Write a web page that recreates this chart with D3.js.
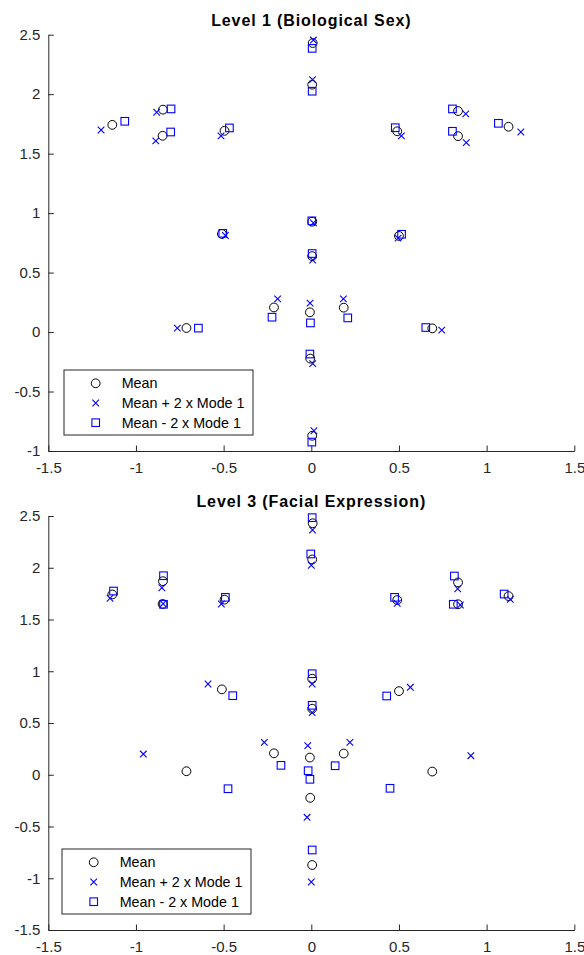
<!DOCTYPE html>
<html>
<head>
<meta charset="utf-8">
<script src="https://cdn.jsdelivr.net/npm/d3@7"></script>
<style>
  body { margin: 0; background: #ffffff; }
  svg { display: block; font-family: "Liberation Sans", Arial, sans-serif; }
</style>
</head>
<body>
<div id="chart"></div>
<script>
// mean shape (21 landmarks), same in both panels
var meanX = [-1.135, -0.846, -0.848, -0.495, 0.008, 0.005, 0.49, 0.837, 0.837, 1.125, -0.51, 0.005, 0.005, 0.5, -0.213, -0.008, 0.185, -0.712, 0.69, -0.006, 0.005];
var meanY = [1.742, 1.87, 1.65, 1.692, 2.43, 2.08, 1.688, 1.858, 1.647, 1.726, 0.825, 0.928, 0.638, 0.808, 0.207, 0.166, 0.205, 0.034, 0.031, -0.223, -0.872];

// Level 1 (Biological Sex)
var sexPlusX = [-1.199, -0.882, -0.887, -0.515, 0.012, 0.007, 0.514, 0.881, 0.884, 1.195, -0.49, 0.012, 0.008, 0.495, -0.192, -0.007, 0.183, -0.764, 0.744, 0.008, 0.015];
var sexPlusY = [1.699, 1.848, 1.607, 1.649, 2.455, 2.122, 1.649, 1.834, 1.593, 1.682, 0.812, 0.918, 0.605, 0.79, 0.279, 0.243, 0.279, 0.033, 0.016, -0.265, -0.83];
var sexMinusX = [-1.064, -0.8, -0.802, -0.467, 0.005, 0.005, 0.479, 0.805, 0.805, 1.067, -0.505, 0.003, 0.005, 0.515, -0.224, -0.005, 0.208, -0.644, 0.653, -0.008, 0.003];
var sexMinusY = [1.772, 1.876, 1.682, 1.716, 2.385, 2.025, 1.718, 1.876, 1.688, 1.755, 0.83, 0.935, 0.66, 0.822, 0.125, 0.077, 0.119, 0.033, 0.038, -0.185, -0.925];

// Level 3 (Facial Expression)
var exprPlusX = [-1.148, -0.852, -0.845, -0.513, 0.007, 0.0, 0.49, 0.835, 0.85, 1.135, -0.589, 0.005, 0.005, 0.565, -0.268, -0.02, 0.22, -0.958, 0.91, -0.024, 0.0];
var exprPlusY = [1.705, 1.807, 1.652, 1.65, 2.365, 2.024, 1.656, 1.797, 1.64, 1.695, 0.877, 0.877, 0.6, 0.845, 0.313, 0.281, 0.313, 0.2, 0.184, -0.411, -1.036];
var exprMinusX = [-1.128, -0.843, -0.843, -0.49, 0.005, -0.003, 0.475, 0.816, 0.81, 1.1, -0.448, 0.005, 0.005, 0.43, -0.173, -0.018, 0.136, -0.475, 0.449, -0.008, 0.005];
var exprMinusY = [1.775, 1.923, 1.647, 1.714, 2.484, 2.133, 1.714, 1.92, 1.647, 1.746, 0.764, 0.976, 0.671, 0.761, 0.091, 0.039, 0.087, -0.135, -0.131, -0.044, -0.727];

var xTicks = [-1.5, -1, -0.5, 0, 0.5, 1, 1.5];
var yTicksTop = [-1, -0.5, 0, 0.5, 1, 1.5, 2, 2.5];
var yTicksBottom = [-1.5, -1, -0.5, 0, 0.5, 1, 1.5, 2, 2.5];
var legendLabels = ["Mean", "Mean + 2 x Mode 1", "Mean - 2 x Mode 1"];

var svgWidth = 584, svgHeight = 955;
var axisColor = "#262626";
var blue = "#0000ff";

var svg = d3.select("#chart")
    .append("svg")
    .attr("width", svgWidth)
    .attr("height", svgHeight);

var xMarkPath = "M-3.3,-3.3L3.3,3.3M-3.3,3.3L3.3,-3.3";

function zipPts(xs, ys) {
    return xs.map(function(x, i) { return [x, ys[i]]; });
}

function drawPanel(opts) {
    var x = d3.scaleLinear().domain([-1.5, 1.5]).range([48.3, 574.3]);
    var y = d3.scaleLinear().domain(opts.yDomain).range([opts.bottom, opts.top]);

    var g = svg.append("g");

    // axes (ticks point inward, no box)
    var xAxis = d3.axisBottom(x).tickValues(xTicks)
        .tickFormat(function(d) { return String(d); })
        .tickSizeInner(-5.5).tickSizeOuter(0).tickPadding(11);
    var yAxis = d3.axisLeft(y).tickValues(opts.yTicks)
        .tickFormat(function(d) { return String(d); })
        .tickSizeInner(-5.5).tickSizeOuter(0).tickPadding(8);

    var gx = g.append("g")
        .attr("transform", "translate(0," + opts.bottom + ")")
        .call(xAxis);
    var gy = g.append("g")
        .attr("transform", "translate(48.3,0)")
        .call(yAxis);

    [gx, gy].forEach(function(a) {
        a.selectAll("path, line").attr("stroke", axisColor).attr("stroke-width", 1);
        a.selectAll("text").attr("fill", axisColor).style("font-size", "15px")
            .style("font-family", "'Liberation Sans', Arial, sans-serif");
    });

    // title
    g.append("text")
        .attr("x", 311.3)
        .attr("y", opts.top - 9)
        .attr("text-anchor", "middle")
        .style("font-size", "16px")
        .style("font-weight", "bold")
        .style("letter-spacing", "0.9px")
        .attr("fill", "#000")
        .text(opts.title);

    // mean circles
    g.selectAll(".mean")
        .data(zipPts(meanX, meanY))
        .enter()
        .append("circle")
        .attr("cx", function(d) { return x(d[0]); })
        .attr("cy", function(d) { return y(d[1]); })
        .attr("r", 4.4)
        .attr("fill", "none")
        .attr("stroke", "#000")
        .attr("stroke-width", 1);

    // mean + 2 x mode
    g.selectAll(".plus")
        .data(zipPts(opts.plusX, opts.plusY))
        .enter()
        .append("path")
        .attr("d", xMarkPath)
        .attr("transform", function(d) { return "translate(" + x(d[0]) + "," + y(d[1]) + ")"; })
        .attr("fill", "none")
        .attr("stroke", blue)
        .attr("stroke-width", 1.1);

    // mean - 2 x mode
    g.selectAll(".minus")
        .data(zipPts(opts.minusX, opts.minusY))
        .enter()
        .append("rect")
        .attr("x", function(d) { return x(d[0]) - 3.8; })
        .attr("y", function(d) { return y(d[1]) - 3.8; })
        .attr("width", 7.6)
        .attr("height", 7.6)
        .attr("fill", "none")
        .attr("stroke", blue)
        .attr("stroke-width", 1.1);

    // legend box
    var lg = g.append("g")
        .attr("transform", "translate(" + opts.legendX + "," + (opts.bottom - 81) + ")");
    lg.append("rect")
        .attr("width", 189)
        .attr("height", 65)
        .attr("fill", "#fff")
        .attr("stroke", axisColor)
        .attr("stroke-width", 1);

    var rowY = [13.3, 33, 52.7];
    lg.append("circle").attr("cx", 31.7).attr("cy", rowY[0]).attr("r", 4.4)
        .attr("fill", "none").attr("stroke", "#000").attr("stroke-width", 1);
    lg.append("path").attr("d", xMarkPath)
        .attr("transform", "translate(31.7," + rowY[1] + ")")
        .attr("fill", "none").attr("stroke", blue).attr("stroke-width", 1.1);
    lg.append("rect").attr("x", 31.7 - 3.8).attr("y", rowY[2] - 3.8)
        .attr("width", 7.6).attr("height", 7.6)
        .attr("fill", "none").attr("stroke", blue).attr("stroke-width", 1.1);

    lg.selectAll(".lbl")
        .data(legendLabels)
        .enter()
        .append("text")
        .attr("x", 57.7)
        .attr("y", function(d, i) { return rowY[i]; })
        .attr("dy", "0.35em")
        .style("font-size", "14.3px")
        .attr("fill", "#000")
        .text(function(d) { return d; });
}

drawPanel({
    title: "Level 1 (Biological Sex)",
    top: 34.7, bottom: 451, yDomain: [-1, 2.5], yTicks: yTicksTop,
    plusX: sexPlusX, plusY: sexPlusY, minusX: sexMinusX, minusY: sexMinusY,
    legendX: 64
});

drawPanel({
    title: "Level 3 (Facial Expression)",
    top: 516, bottom: 930, yDomain: [-1.5, 2.5], yTicks: yTicksBottom,
    plusX: exprPlusX, plusY: exprPlusY, minusX: exprMinusX, minusY: exprMinusY,
    legendX: 62
});
</script>
</body>
</html>
